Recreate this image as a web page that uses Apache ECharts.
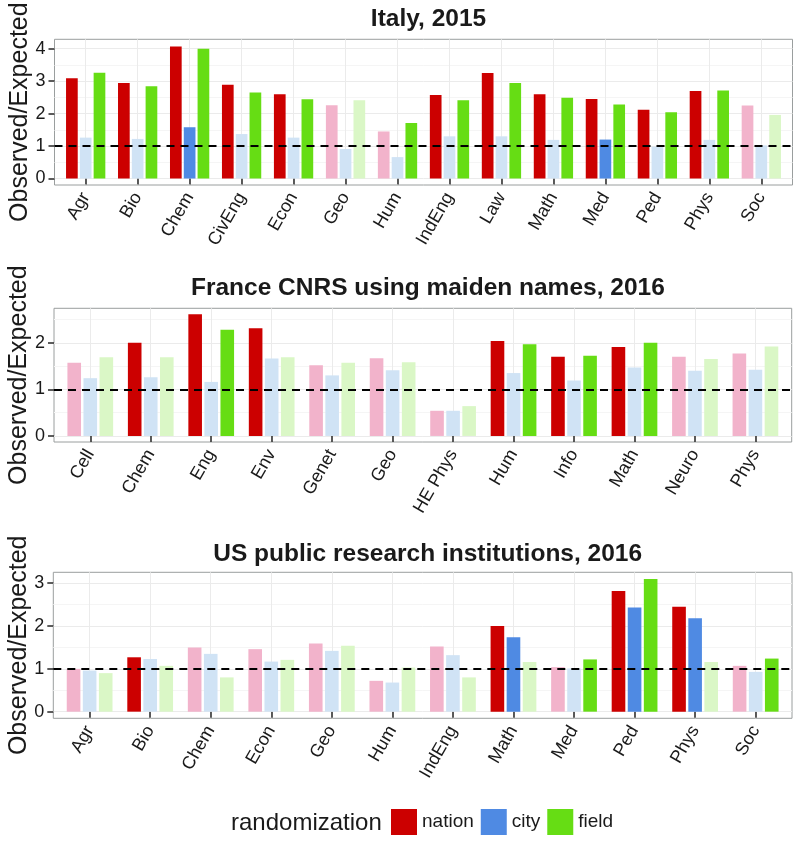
<!DOCTYPE html>
<html><head><meta charset="utf-8">
<script src="https://cdn.jsdelivr.net/npm/echarts@6/dist/echarts.min.js"></script>
<style>html,body{margin:0;padding:0;background:#fff}#c{width:793px;height:845px}</style>
</head><body><div id="c"></div>
<script>
// ---------- DATA ----------
const seriesNames = ['nation', 'city', 'field'];

const italyCategories = ['Agr','Bio','Chem','CivEng','Econ','Geo','Hum','IndEng','Law','Math','Med','Ped','Phys','Soc'];
const italyNation = [3.09, 2.94, 4.07, 2.89, 2.60, 2.26, 1.45, 2.57, 3.25, 2.60, 2.45, 2.12, 2.70, 2.25];
const italyCity   = [1.26, 1.22, 1.58, 1.37, 1.26, 0.91, 0.66, 1.30, 1.30, 1.19, 1.20, 0.98, 1.19, 1.02];
const italyField  = [3.26, 2.84, 4.00, 2.65, 2.44, 2.41, 1.71, 2.41, 2.94, 2.49, 2.28, 2.04, 2.71, 1.96];
const italySigNation = [1,1,1,1,1,0,0,1,1,1,1,1,1,0];
const italySigCity   = [0,0,1,0,0,0,0,0,0,0,1,0,0,0];
const italySigField  = [1,1,1,1,1,0,1,1,1,1,1,1,1,0];
const italyYTicks = [0, 1, 2, 3, 4];
const italyYMinor = [0.5, 1.5, 2.5, 3.5];

const franceCategories = ['Cell','Chem','Eng','Env','Genet','Geo','HE Phys','Hum','Info','Math','Neuro','Phys'];
const franceNation = [1.57, 2.00, 2.61, 2.31, 1.52, 1.67, 0.54, 2.04, 1.70, 1.91, 1.70, 1.77];
const franceCity   = [1.24, 1.26, 1.16, 1.66, 1.30, 1.41, 0.54, 1.35, 1.19, 1.47, 1.40, 1.42];
const franceField  = [1.69, 1.69, 2.28, 1.69, 1.57, 1.58, 0.64, 1.97, 1.72, 2.00, 1.65, 1.92];
const franceSigNation = [0,1,1,1,0,0,0,1,1,1,0,0];
const franceSigCity   = [0,0,0,0,0,0,0,0,0,0,0,0];
const franceSigField  = [0,0,1,0,0,0,0,1,1,1,0,0];
const franceYTicks = [0, 1, 2];
const franceYMinor = [0.5, 1.5, 2.5];

const usCategories = ['Agr','Bio','Chem','Econ','Geo','Hum','IndEng','Math','Med','Ped','Phys','Soc'];
const usNation = [1.00, 1.27, 1.50, 1.46, 1.59, 0.72, 1.52, 2.00, 1.04, 2.82, 2.45, 1.07];
const usCity   = [0.96, 1.23, 1.35, 1.17, 1.42, 0.68, 1.32, 1.74, 1.01, 2.43, 2.18, 0.93];
const usField  = [0.90, 1.07, 0.80, 1.21, 1.54, 1.03, 0.80, 1.16, 1.22, 3.10, 1.16, 1.24];
const usSigNation = [0,1,0,0,0,0,0,1,0,1,1,0];
const usSigCity   = [0,0,0,0,0,0,0,1,0,1,1,0];
const usSigField  = [0,0,0,0,0,0,0,0,1,1,0,1];
const usYTicks = [0, 1, 2, 3];
const usYMinor = [0.5, 1.5, 2.5];

const referenceLine = 1;

// ---------- STYLE / LAYOUT ----------
const FONT = '"Liberation Sans", Arial, Helvetica, sans-serif';
const fullColors  = { nation: '#CC0000', city: '#4F8AE3', field: '#66DD14' };
const fadedColors = { nation: '#F2B3CB', city: '#D0E3F5', field: '#DAF7C6' };

const panels = [
  { title: 'Italy, 2015', cats: italyCategories,
    vals: { nation: italyNation, city: italyCity, field: italyField },
    sig:  { nation: italySigNation, city: italySigCity, field: italySigField },
    ticks: italyYTicks, minor: italyYMinor, ymin: -0.2, ymax: 4.29,
    x0: 54.5, x1: 792.5, y0: 39.3, y1: 185, titleTop: 2 },
  { title: 'France CNRS using maiden names, 2016', cats: franceCategories,
    vals: { nation: franceNation, city: franceCity, field: franceField },
    sig:  { nation: franceSigNation, city: franceSigCity, field: franceSigField },
    ticks: franceYTicks, minor: franceYMinor, ymin: -0.13, ymax: 2.74,
    x0: 54, x1: 791.7, y0: 308.3, y1: 442, titleTop: 271 },
  { title: 'US public research institutions, 2016', cats: usCategories,
    vals: { nation: usNation, city: usCity, field: usField },
    sig:  { nation: usSigNation, city: usSigCity, field: usSigField },
    ticks: usYTicks, minor: usYMinor, ymin: -0.155, ymax: 3.255,
    x0: 53.3, x1: 792, y0: 572.3, y1: 718.3, titleTop: 537 }
];

const grids = [], xAxes = [], yAxes = [], series = [], titles = [];

panels.forEach((p, i) => {
  const n = p.cats.length;
  const unit = (p.x1 - p.x0) / (n + 0.2);
  const barW = unit * 0.225;
  grids.push({ left: p.x0, width: p.x1 - p.x0, top: p.y0, height: p.y1 - p.y0,
    show: true, borderColor: '#9a9e9e', borderWidth: 1, backgroundColor: '#fff',
    containLabel: false, outerBoundsMode: 'none' });
  const pos = p.cats.map((c, k) => k + 1);
  xAxes.push({ type: 'value', gridIndex: i, min: 0.4, max: n + 0.6,
    axisLine: { show: false },
    axisTick: { show: true, customValues: pos, length: 6, lineStyle: { color: '#333', width: 1.6 } },
    axisLabel: { show: true, customValues: pos, formatter: v => p.cats[Math.round(v) - 1] || '',
      rotate: 60, margin: 9, fontSize: 18, color: '#1a1a1a', fontFamily: FONT },
    splitLine: { show: true, lineStyle: { color: '#ebebeb', width: 1 } } });
  yAxes.push({ type: 'value', gridIndex: i, min: p.ymin, max: p.ymax,
    name: 'Observed/Expected', nameLocation: 'middle', nameGap: 22, nameRotate: 90,
    nameMoveOverlap: false,
    nameTextStyle: { fontSize: 25, color: '#1a1a1a', fontFamily: FONT },
    axisLine: { show: false },
    axisTick: { show: true, customValues: p.ticks, length: 6, lineStyle: { color: '#333', width: 1.6 } },
    axisLabel: { show: true, customValues: p.ticks, margin: 9, fontSize: 18, color: '#1a1a1a', fontFamily: FONT },
    splitLine: { show: true, lineStyle: { color: '#ebebeb', width: 1 } } });
  yAxes.push({ type: 'value', gridIndex: i, min: p.ymin, max: p.ymax, position: 'left',
    axisLine: { show: false }, axisLabel: { show: false },
    axisTick: { show: false, customValues: p.minor },
    splitLine: { show: true, lineStyle: { color: '#f5f5f5', width: 1 } } });
  seriesNames.forEach((s, j) => {
    const ser = {
      type: 'bar', name: s, xAxisIndex: i, yAxisIndex: 2 * i,
      barWidth: barW, barGap: '18%',
      itemStyle: { color: fullColors[s] },
      emphasis: { disabled: true },
      data: p.vals[s].map((v, k) => ({ value: [k + 1, v],
        itemStyle: { color: p.sig[s][k] ? fullColors[s] : fadedColors[s] } }))
    };
    if (j === seriesNames.length - 1) {
      ser.markLine = { silent: true, symbol: ['none', 'none'], label: { show: false },
        lineStyle: { color: '#000', type: [8, 6], width: 2 },
        data: [{ yAxis: referenceLine }] };
    }
    series.push(ser);
  });
  titles.push({ text: p.title, left: (p.x0 + p.x1) / 2, top: p.titleTop, textAlign: 'center',
    textStyle: { fontSize: 24.5, fontWeight: 'bold', color: '#1a1a1a', fontFamily: FONT } });
});

titles.push({ text: 'randomization', left: 226, top: 806,
  textStyle: { fontSize: 24, fontWeight: 'normal', color: '#1a1a1a', fontFamily: FONT } });

const chart = echarts.init(document.getElementById('c'), null, { renderer: 'canvas' });
chart.setOption({
  animation: false,
  backgroundColor: '#fff',
  title: titles,
  grid: grids,
  xAxis: xAxes,
  yAxis: yAxes,
  legend: { data: seriesNames, left: 391, top: 809, padding: 0, itemWidth: 26, itemHeight: 26, itemGap: 7,
    icon: 'rect', selectedMode: false,
    textStyle: { fontSize: 19, color: '#1a1a1a', fontFamily: FONT } },
  series: series
});
</script>
</body></html>
